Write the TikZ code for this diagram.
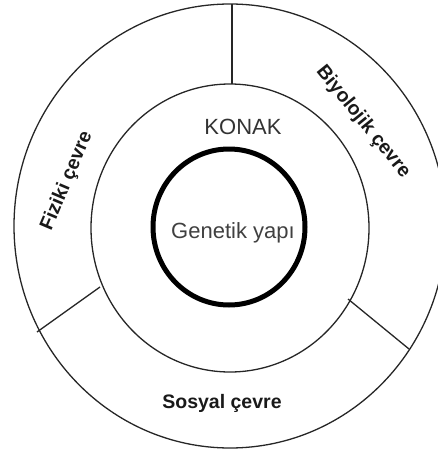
\documentclass[tikz,border=0pt]{standalone}
\usepackage{fontspec}
\setmainfont{Liberation Sans}
\begin{document}
\begin{tikzpicture}[x=1pt,y=-1pt,
  thinline/.style={line width=1.3pt, black!85},
  thickring/.style={line width=5pt, black},
  boldlabel/.style={font=\fontsize{19.5}{22}\selectfont\bfseries, text=black!90, inner sep=0pt},
  plainlabel/.style={font=\fontsize{22}{24}\selectfont, text=black!80, inner sep=0pt}]
\useasboundingbox (0,0) rectangle (438,452);
\clip (0,0) rectangle (438,452);
% circles
\coordinate (oc) at (230,226);
\coordinate (mc) at (230,228);
\coordinate (ic) at (229,227);
\draw[thinline] (oc) ellipse [x radius=216, y radius=222];
\draw[thinline] (mc) ellipse [x radius=139, y radius=144];
\draw[thickring] (ic) ellipse [x radius=76, y radius=78];
% dividers
\coordinate (t1) at (232,4);
\coordinate (t2) at (232,84);
\coordinate (l1) at (37,332);
\coordinate (l2) at (100,287);
\coordinate (r1) at (348,299);
\coordinate (r2) at (409,349);
\draw[thinline] (t1) -- (t2);
\draw[thinline] (l1) -- (l2);
\draw[thinline] (r1) -- (r2);
% labels
\node[plainlabel, anchor=base] (konak) at (243,134) {KONAK};
\node[plainlabel, anchor=base, text=black!75] (gen) at (233,238) {Genetik yapı};
\node[boldlabel, anchor=base] (sos) at (222,408) {Sosyal çevre};
\node[boldlabel, rotate=67] (fiz) at (67,181) {Fiziki çevre};
\node[boldlabel, rotate=-51] (bio) at (363,122) {Biyolojik çevre};
\end{tikzpicture}
\end{document}
